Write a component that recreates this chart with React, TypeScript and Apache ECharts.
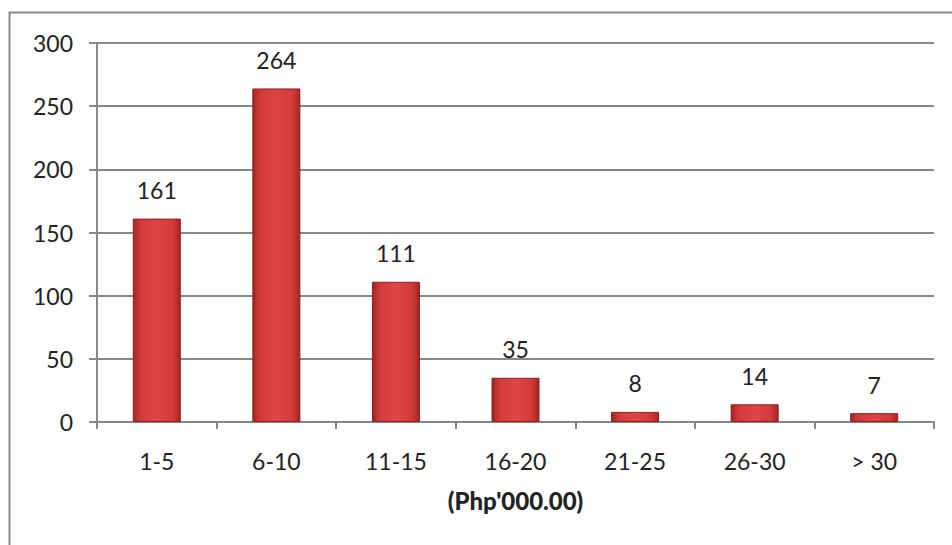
import React, { useEffect, useRef } from "react";
import * as echarts from "echarts";

const categories = ["1-5", "6-10", "11-15", "16-20", "21-25", "26-30", "> 30"];
const values = [161, 264, 111, 35, 8, 14, 7];
const yTicks = [0, 50, 100, 150, 200, 250, 300];
const axisTitle = "(Php'000.00)";

const FONT = "Lato, 'Liberation Sans', Arial, sans-serif";

export default function App() {
  const ref = useRef<HTMLDivElement>(null);
  useEffect(() => {
    const chart = echarts.init(ref.current!, null, { renderer: "svg" });
    chart.setOption({
      animation: false,
      backgroundColor: "#ffffff",
      graphic: [
        {
          type: "rect",
          shape: { x: 9.5, y: 12.5, width: 960, height: 560 },
          style: { fill: "none", stroke: "#8a8a8a", lineWidth: 2 },
          silent: true,
        },
      ],
      grid: { left: 97, right: 18, top: 43, bottom: 123, containLabel: false },
      xAxis: {
        type: "category",
        data: categories,
        name: axisTitle,
        nameLocation: "middle",
        nameGap: 66,
        nameTextStyle: { fontFamily: FONT, fontSize: 24, fontWeight: 900, color: "#222" },
        axisLine: { lineStyle: { color: "#888", width: 2 } },
        axisTick: { show: true, length: 7, lineStyle: { color: "#888", width: 2 } },
        axisLabel: { fontFamily: FONT, fontSize: 23, color: "#222", margin: 27 },
      },
      yAxis: {
        type: "value",
        min: 0,
        max: 300,
        interval: 50,
        axisLine: { show: true, lineStyle: { color: "#888", width: 2 } },
        axisTick: { show: true, length: 8, lineStyle: { color: "#888", width: 2 } },
        splitLine: { lineStyle: { color: "#888", width: 2 } },
        axisLabel: {
          fontFamily: FONT,
          fontSize: 23,
          color: "#222",
          margin: 24,
          formatter: (v: number) => (yTicks.includes(v) ? String(v) : ""),
        },
      },
      series: [
        {
          type: "bar",
          data: values,
          barWidth: 48,
          itemStyle: {
            color: new echarts.graphic.LinearGradient(0, 0, 1, 0, [
              { offset: 0, color: "#a02424" },
              { offset: 0.15, color: "#d23a3a" },
              { offset: 0.5, color: "#de4444" },
              { offset: 0.85, color: "#d23a3a" },
              { offset: 1, color: "#a02424" },
            ]),
            borderColor: "#8e1e1e",
            borderWidth: 1,
          },
          label: {
            show: true,
            position: "top",
            distance: 17,
            fontFamily: FONT,
            fontSize: 23,
            color: "#222",
          },
        },
      ],
    });
    return () => chart.dispose();
  }, []);
  return <div ref={ref} style={{ width: 952, height: 545, position: "absolute", left: 0, top: 0 }} />;
}
